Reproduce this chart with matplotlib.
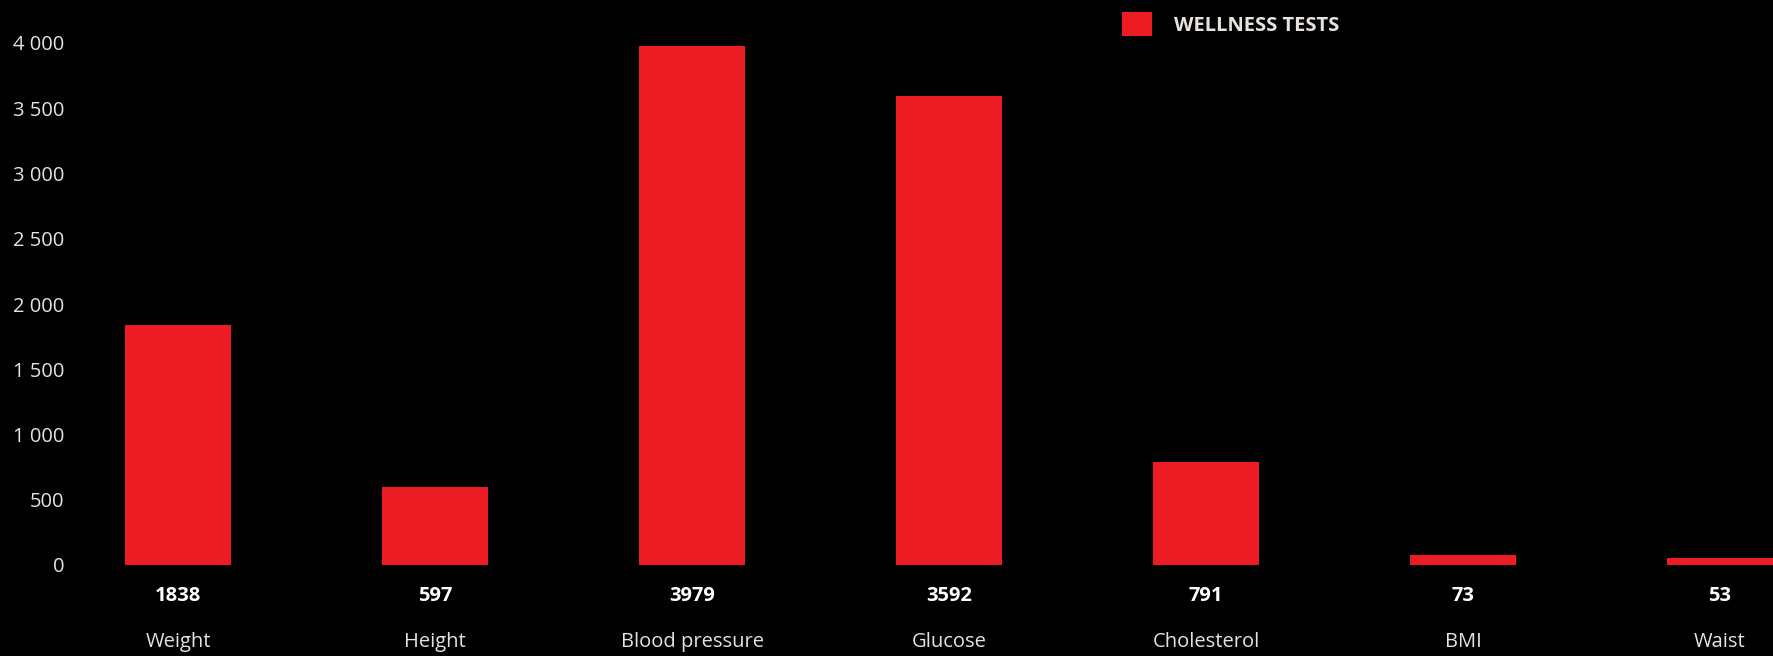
import matplotlib
matplotlib.use("Agg")
import matplotlib.pyplot as plt
from matplotlib.ticker import FuncFormatter, MultipleLocator

categories = ["Weight", "Height", "Blood pressure", "Glucose", "Cholesterol", "BMI", "Waist"]
values = [1838, 597, 3979, 3592, 791, 73, 53]
series_name = "WELLNESS TESTS"

W, H = 1773, 656
fig = plt.figure(figsize=(W / 100, H / 100), dpi=100, facecolor="black")
left = 72.6 / W
bottom = 1 - 565 / H
top = 1 - 43 / H
ax = fig.add_axes([left, bottom, 1 - left, top - bottom], facecolor="black")

bar_color = "#ED1C24"
txt = "#E6E3DF"
font = "Open Sans"

x = list(range(len(categories)))
bars = ax.bar(x, values, width=0.412, color=bar_color, label=series_name, zorder=2)

ax.set_xlim(-0.41, 6.206)
ax.set_ylim(0, 4000)
ax.yaxis.set_major_locator(MultipleLocator(500))
ax.yaxis.set_major_formatter(FuncFormatter(lambda v, p: f"{int(v):,}".replace(",", " ")))
for s in ax.spines.values():
    s.set_visible(False)
ax.tick_params(axis="y", length=0, pad=6, labelcolor=txt, labelsize=14.5)
ax.tick_params(axis="x", length=0, pad=48, labelcolor=txt, labelsize=14.5)
for lab in ax.get_yticklabels():
    lab.set_fontfamily(font)
ax.set_xticks(x)
ax.set_xticklabels(categories, fontfamily=font)

for xi, v in zip(x, values):
    ax.annotate(f"{v}", xy=(xi, 0), xycoords=("data", "axes fraction"),
                xytext=(0, -31), textcoords="offset pixels",
                ha="center", va="center", color="white", fontsize=14.5,
                fontweight="bold", fontfamily=font)

leg = fig.legend(handles=[bars], labels=[series_name], loc="center left",
                 bbox_to_anchor=(1104 / W, 1 - 24 / H), frameon=False,
                 handlelength=1.5, handleheight=1.5, handletextpad=1.1,
                 prop={"family": font, "weight": "bold", "size": 14.5})
for t in leg.get_texts():
    t.set_color(txt)

fig.savefig("out.png", dpi=100, facecolor="black")
